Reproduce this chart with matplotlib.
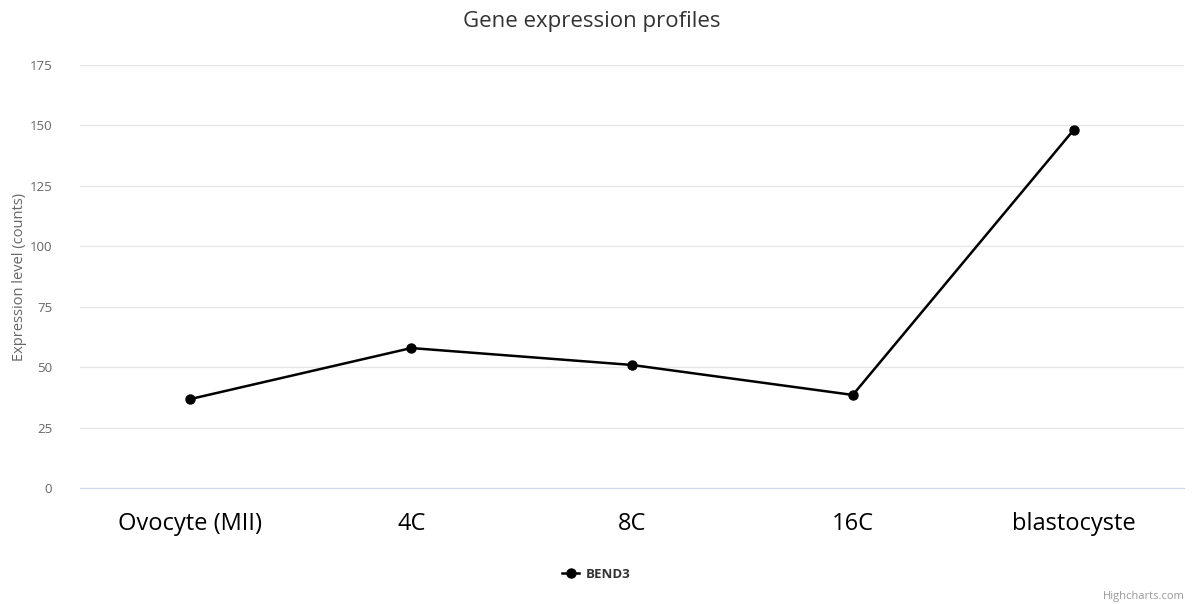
import matplotlib.pyplot as plt
from matplotlib.lines import Line2D

stages = ["Ovocyte (MII)", "4C", "8C", "16C", "blastocyste"]
bend3 = [36.8, 57.9, 50.9, 38.5, 148.1]
y_ticks = [0, 25, 50, 75, 100, 125, 150, 175]

plt.rcParams["font.family"] = ["Open Sans", "DejaVu Sans"]

fig = plt.figure(figsize=(11.93, 6.04), dpi=100)
ax = fig.add_axes([80 / 1193, 116 / 604, 1104 / 1193, 423 / 604])

x = list(range(len(stages)))
ax.plot(x, bend3, color="black", linewidth=1.8, marker="o", markersize=6.5, zorder=3)

ax.set_xlim(-0.5, len(stages) - 0.5)
ax.set_ylim(0, 175)
ax.set_yticks(y_ticks)
ax.set_xticks(x)
ax.set_xticklabels(stages, fontsize=17, color="black")
ax.tick_params(axis="x", length=0, pad=17)
ax.tick_params(axis="y", length=0, labelsize=9.5, colors="#666666", pad=20)
ax.grid(axis="y", color="#e6e6e6", linewidth=1)
ax.set_axisbelow(True)
for side in ["top", "right", "left"]:
    ax.spines[side].set_visible(False)
ax.spines["bottom"].set_color("#ccd6eb")

ax.set_ylabel("Expression level (counts)", fontsize=10.5, color="#666666", labelpad=2)

fig.text(0.496, 1 - 22 / 604, "Gene expression profiles", ha="center", va="center",
         fontsize=16, color="#333333")

handle = Line2D([], [], color="black", linewidth=1.8, marker="o", markersize=6.5)
leg = fig.legend([handle], ["BEND3"], loc="center", bbox_to_anchor=(0.5, 1 - 574 / 604),
                 frameon=False, handlelength=1.3, handletextpad=0.5,
                 prop={"size": 9.5, "weight": "bold"})
for t in leg.get_texts():
    t.set_color("#333333")

fig.text(1185 / 1193, 1 - 596 / 604, "Highcharts.com", ha="right", va="center",
         fontsize=8, color="#999999")

fig.savefig("out.png", dpi=100)
